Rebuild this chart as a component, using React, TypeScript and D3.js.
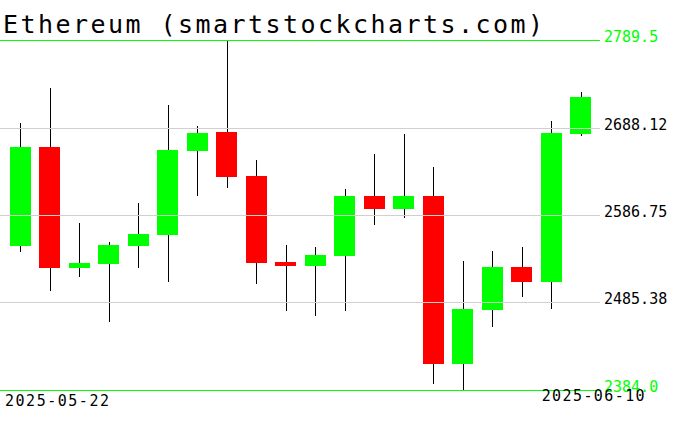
import React from 'react';
import * as d3 from 'd3';

const dates = [
  '2025-05-22', '2025-05-23', '2025-05-24', '2025-05-25', '2025-05-26',
  '2025-05-27', '2025-05-28', '2025-05-29', '2025-05-30', '2025-05-31',
  '2025-06-01', '2025-06-02', '2025-06-03', '2025-06-04', '2025-06-05',
  '2025-06-06', '2025-06-07', '2025-06-08', '2025-06-09', '2025-06-10',
];
const opens = [2551.2, 2665.5, 2525.7, 2530.3, 2551.2, 2563.9, 2661.2, 2682.9, 2631.9, 2532.3,
  2528.0, 2539.6, 2608.8, 2594.0, 2608.8, 2414.5, 2477.0, 2526.5, 2509.5, 2680.9];
const highs = [2693.3, 2733.9, 2577.5, 2555.1, 2600.7, 2714.2, 2689.9, 2789.5, 2650.5, 2552.0,
  2549.7, 2616.5, 2657.4, 2680.6, 2642.4, 2533.5, 2545.0, 2549.7, 2695.7, 2729.3];
const lows = [2544.2, 2499.0, 2515.3, 2463.1, 2525.7, 2509.5, 2609.1, 2618.4, 2507.2, 2475.9,
  2470.1, 2475.9, 2575.5, 2583.6, 2391.3, 2384.0, 2457.3, 2492.1, 2478.2, 2678.6];
const closes = [2665.5, 2525.7, 2531.1, 2552.0, 2564.7, 2662.1, 2681.8, 2631.1, 2531.5, 2528.0,
  2540.4, 2608.8, 2594.0, 2608.8, 2414.5, 2477.8, 2526.5, 2509.5, 2681.8, 2723.5];
const tickValues = [2789.5, 2688.12, 2586.75, 2485.38, 2384.0];
const tickLabels = ['2789.5', '2688.12', '2586.75', '2485.38', '2384.0'];
const title = 'Ethereum (smartstockcharts.com)';

const width = 676;
const height = 431;
const mono = '"DejaVu Sans Mono", monospace';

export default function App() {
  const x = d3.scaleBand<string>().domain(dates).range([5.5, 595.5]).paddingInner(0.29).paddingOuter(0.145);
  const y = d3.scaleLinear().domain([2384.0, 2789.5]).range([390, 40]);
  const lineEnd = 600;

  return (
    <svg width={width} height={height} style={{ position: 'absolute', left: 0, top: 0, background: '#fff' }}>
      {/* wicks */}
      {dates.map((d, i) => {
        const cx = Math.round((x(d) ?? 0) + x.bandwidth() / 2) + 0.5;
        return <line key={'w' + d} x1={cx} x2={cx} y1={y(highs[i])} y2={y(lows[i])} stroke="#000" strokeWidth={1} shapeRendering="crispEdges" />;
      })}
      {/* bodies */}
      {dates.map((d, i) => {
        const up = closes[i] >= opens[i];
        const top = y(Math.max(opens[i], closes[i]));
        const bot = y(Math.min(opens[i], closes[i]));
        return (
          <rect key={'b' + d} x={Math.round(x(d) ?? 0)} width={Math.round(x.bandwidth())}
            y={top} height={Math.max(bot - top, 1)} fill={up ? '#00ff00' : '#ff0000'} shapeRendering="crispEdges" />
        );
      })}
      {/* price levels */}
      {tickValues.map((v, i) => {
        const edge = i === 0 || i === tickValues.length - 1;
        const ly = Math.round(y(v)) + 0.5;
        return (
          <g key={'t' + i}>
            <line x1={0} x2={lineEnd} y1={ly} y2={ly} stroke={edge ? '#00ff00' : '#d0d0d0'} strokeWidth={1} shapeRendering="crispEdges" />
            <text x={604} y={ly + 1} fontFamily={mono} fontSize={15} fill={edge ? '#00ff00' : '#000'}>{tickLabels[i]}</text>
          </g>
        );
      })}
      <text x={3} y={33} fontFamily={mono} fontSize={25} textLength={540} lengthAdjust="spacing" fill="#000">{title}</text>
      <text x={5} y={406} fontFamily={mono} fontSize={15} textLength={104} lengthAdjust="spacing" fill="#000">{dates[0]}</text>
      <text x={646} y={401} fontFamily={mono} fontSize={15} textAnchor="end" fill="#000" letterSpacing={1.4}>{dates[dates.length - 1]}</text>
    </svg>
  );
}
